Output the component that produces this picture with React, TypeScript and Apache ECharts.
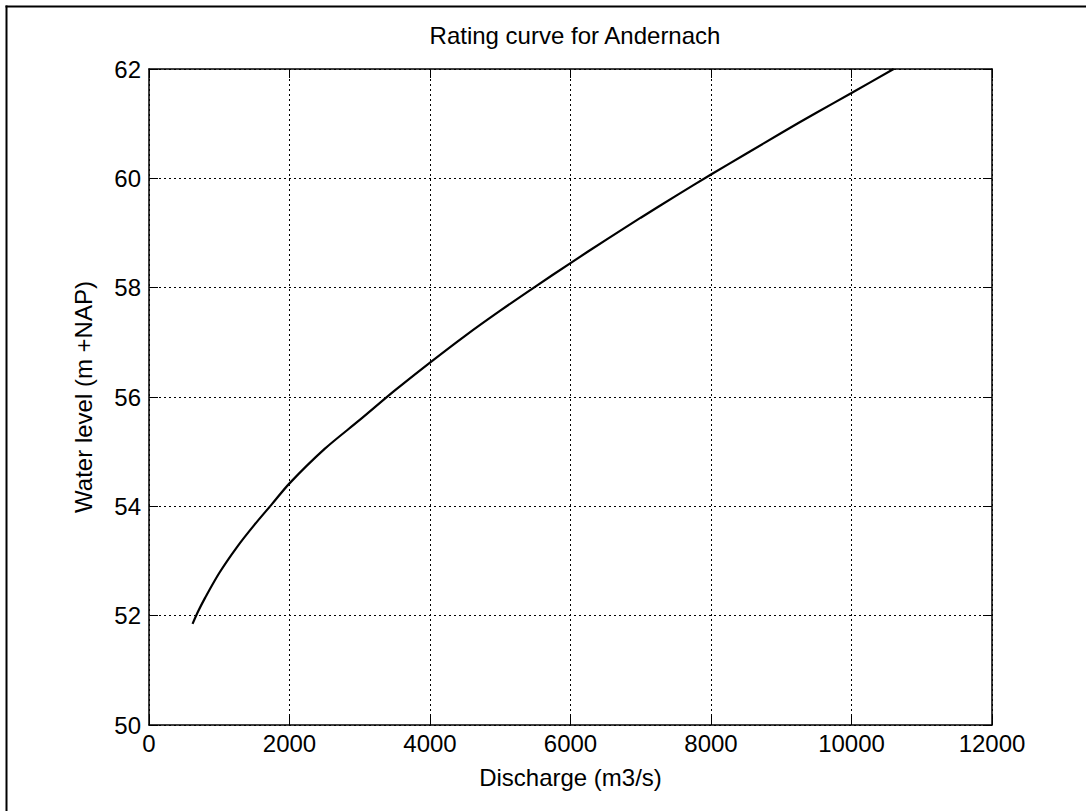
import React, { useEffect, useRef } from "react";
import * as echarts from "echarts";

const titleText = "Rating curve for Andernach";
const xName = "Discharge (m3/s)";
const yName = "Water level (m +NAP)";

const discharge = [620, 700, 800, 1000, 1250, 1500, 1750, 2000, 2500, 3000, 3500, 4000, 4500, 5000, 5500, 6000, 6500, 7000, 7500, 8000, 8500, 9000, 9500, 10000, 10600];
const waterLevel = [51.85, 52.08, 52.33, 52.78, 53.25, 53.66, 54.04, 54.42, 55.05, 55.58, 56.12, 56.63, 57.12, 57.58, 58.02, 58.45, 58.87, 59.28, 59.68, 60.07, 60.45, 60.83, 61.2, 61.56, 62.0];

const xMin = 0, xMax = 12000, xStep = 2000;
const yMin = 50, yMax = 62, yStep = 2;

const FONT = "'Liberation Sans', Arial, Helvetica, sans-serif";

export default function App() {
  const ref = useRef<HTMLDivElement>(null);
  useEffect(() => {
    if (!ref.current) return;
    const chart = echarts.init(ref.current, undefined, { renderer: "svg" });
    const data = discharge.map((q, i) => [q, waterLevel[i]]);
    const grid = { left: 149, top: 69, width: 843, height: 656 };
    const dotted = { color: "#000", width: 1, type: [2, 3] as any };
    const plain = (v: number) => String(v);
    chart.setOption({
      animation: false,
      backgroundColor: "#fff",
      textStyle: { fontFamily: FONT, color: "#000" },
      title: {
        text: titleText,
        left: 570,
        top: 18,
        textAlign: "center",
        textStyle: { fontFamily: FONT, fontSize: 24, fontWeight: "normal", color: "#000" },
      },
      grid,
      xAxis: [
        {
          type: "value",
          min: xMin,
          max: xMax,
          interval: xStep,
          position: "bottom",
          name: xName,
          nameLocation: "middle",
          nameGap: 40,
          nameTextStyle: { fontFamily: FONT, fontSize: 24, color: "#000" },
          axisLine: { show: true, onZero: false, lineStyle: { color: "#000", width: 1.5 } },
          axisTick: { show: true, inside: true, length: 9, lineStyle: { color: "#000", width: 1 } },
          axisLabel: { fontFamily: FONT, fontSize: 24, color: "#000", margin: 6, formatter: plain },
          splitLine: { show: true, lineStyle: dotted },
        },
        {
          type: "value",
          min: xMin,
          max: xMax,
          interval: xStep,
          position: "top",
          axisLine: { show: true, onZero: false, lineStyle: { color: "#000", width: 1.5 } },
          axisTick: { show: true, inside: true, length: 9, lineStyle: { color: "#000", width: 1 } },
          axisLabel: { show: false },
          splitLine: { show: false },
        },
      ],
      yAxis: [
        {
          type: "value",
          min: yMin,
          max: yMax,
          interval: yStep,
          position: "left",
          name: yName,
          nameLocation: "middle",
          nameGap: 54,
          nameRotate: 90,
          nameTextStyle: { fontFamily: FONT, fontSize: 24, color: "#000" },
          axisLine: { show: true, onZero: false, lineStyle: { color: "#000", width: 1.5 } },
          axisTick: { show: true, inside: true, length: 9, lineStyle: { color: "#000", width: 1 } },
          axisLabel: { fontFamily: FONT, fontSize: 24, color: "#000", margin: 8, formatter: plain },
          splitLine: { show: true, lineStyle: dotted },
        },
        {
          type: "value",
          min: yMin,
          max: yMax,
          interval: yStep,
          position: "right",
          axisLine: { show: true, onZero: false, lineStyle: { color: "#000", width: 1.5 } },
          axisTick: { show: true, inside: true, length: 9, lineStyle: { color: "#000", width: 1 } },
          axisLabel: { show: false },
          splitLine: { show: false },
        },
      ],
      graphic: [
        { type: "line", shape: { x1: 6.5, y1: 5.5, x2: 6.5, y2: 811 }, style: { stroke: "#000", lineWidth: 2 } },
        { type: "line", shape: { x1: 5.5, y1: 6.5, x2: 1086, y2: 6.5 }, style: { stroke: "#000", lineWidth: 2 } },
      ],
      series: [
        {
          type: "line",
          data,
          xAxisIndex: 0,
          yAxisIndex: 0,
          smooth: 0.3,
          showSymbol: false,
          symbol: "none",
          lineStyle: { color: "#000", width: 2.2 },
        },
      ],
    });
    return () => chart.dispose();
  }, []);
  return (
    <div
      ref={ref}
      style={{ position: "absolute", left: 0, top: 0, width: 1086, height: 811, background: "#fff" }}
    />
  );
}
